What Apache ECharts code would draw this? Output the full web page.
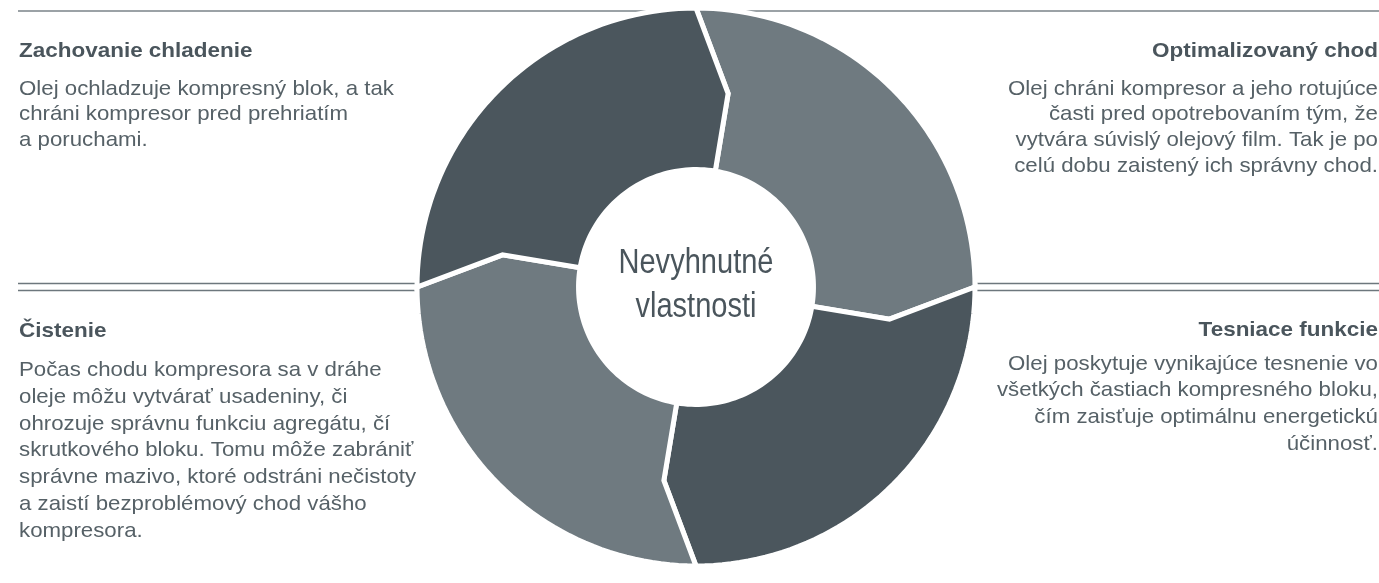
<!DOCTYPE html>
<html>
<head>
<meta charset="utf-8">
<script src="https://cdn.jsdelivr.net/npm/echarts@6/dist/echarts.min.js"></script>
<style>
html,body{margin:0;padding:0;background:#fff;}
#main{width:1379px;height:583px;}
</style>
</head>
<body>
<div id="main"></div>
<script>
// ---- data ----
const segmentNames = ['Optimalizovaný chod', 'Tesniace funkcie', 'Čistenie', 'Zachovanie chladenie'];
const segmentShares = [25, 25, 25, 25];
const centerLines = ['Nevyhnutné', 'vlastnosti'];
const blockTitles = ['Zachovanie chladenie', 'Optimalizovaný chod', 'Čistenie', 'Tesniace funkcie'];
const blockBodies = [
  ['Olej ochladzuje kompresný blok, a tak', 'chráni kompresor pred prehriatím', 'a poruchami.'],
  ['Olej chráni kompresor a jeho rotujúce', 'časti pred opotrebovaním tým, že', 'vytvára súvislý olejový film. Tak je po', 'celú dobu zaistený ich správny chod.'],
  ['Počas chodu kompresora sa v dráhe', 'oleje môžu vytvárať usadeniny, či', 'ohrozuje správnu funkciu agregátu, čí', 'skrutkového bloku. Tomu môže zabrániť', 'správne mazivo, ktoré odstráni nečistoty', 'a zaistí bezproblémový chod vášho', 'kompresora.'],
  ['Olej poskytuje vynikajúce tesnenie vo', 'všetkých častiach kompresného bloku,', 'čím zaisťuje optimálnu energetickú', 'účinnosť.']
];

// ---- style ----
const colors = ['#6f7a80', '#4b565d', '#6f7a80', '#4b565d'];
const textDark = '#4a555c';
const textBody = '#566167';
const W = 1379, H = 583;
const CX = 696, CY = 287, ROUT = 279;
const R_MID = 0.703, R_IN = 0.421, NOTCH = 2.62;

const segData = [];
let acc = 0;
segmentShares.forEach((v, i) => {
  segData.push({ value: [acc, acc + v, i], name: segmentNames[i], itemStyle: { color: colors[i] } });
  acc += v;
});

const chart = echarts.init(document.getElementById('main'), null, { renderer: 'canvas' });

function renderSeg(params, api) {
  const a = api.value(0), b = api.value(1);
  const pts = [];
  const step = 0.5;
  for (let t = a; t < b; t += step) pts.push(api.coord([1, t]));
  pts.push(api.coord([1, b]));
  pts.push(api.coord([R_MID, b + NOTCH]));
  for (let t = b + NOTCH; t > a + NOTCH; t -= step) pts.push(api.coord([R_IN, t]));
  pts.push(api.coord([R_IN, a + NOTCH]));
  pts.push(api.coord([R_MID, a + NOTCH]));
  return {
    type: 'polygon',
    shape: { points: pts },
    style: { fill: api.visual('color'), stroke: '#ffffff', lineWidth: 5, lineJoin: 'miter' }
  };
}

const fontBody = '21px "Liberation Sans", Arial, sans-serif';
const fontTitle = 'bold 21px "Liberation Sans", Arial, sans-serif';

const graphics = [];
// lines
const lineGray = '#6d777d';
graphics.push({ type: 'line', z: -1, shape: { x1: 18, y1: 11, x2: W, y2: 11 }, style: { stroke: '#7a8389', lineWidth: 1.5 } });
[CY - 3.5, CY + 3.5].forEach(y => {
  graphics.push({ type: 'line', z: -1, shape: { x1: 18, y1: y, x2: CX - ROUT + 3, y2: y }, style: { stroke: lineGray, lineWidth: 1.5 } });
  graphics.push({ type: 'line', z: -1, shape: { x1: CX + ROUT - 3, y1: y, x2: W, y2: y }, style: { stroke: lineGray, lineWidth: 1.5 } });
});

const blockPos = [
  { x: 19, t: 51, b: 89, lh: 25.5, align: 'left' },
  { x: 1378, t: 51, b: 89, lh: 25.6, align: 'right' },
  { x: 19, t: 331, b: 370, lh: 26.9, align: 'left' },
  { x: 1378, t: 330, b: 364, lh: 26.7, align: 'right' }
];
blockTitles.forEach((t, i) => {
  const p = blockPos[i];
  graphics.push({ type: 'text', x: p.x, y: p.t, scaleX: 1.07, style: { text: t, font: fontTitle, fill: textDark, textAlign: p.align, textVerticalAlign: 'middle' } });
  graphics.push({ type: 'text', x: p.x, y: p.b - p.lh / 2, scaleX: 1.06, style: { text: blockBodies[i].join('\n'), font: fontBody, fill: textBody, textAlign: p.align, textVerticalAlign: 'top', lineHeight: p.lh } });
});
graphics.push({
  type: 'text', x: CX, y: CY - 2, scaleX: 0.83, z: 10,
  style: { text: centerLines.join('\n'), font: '35px "Liberation Sans", Arial, sans-serif', fill: textDark, textAlign: 'center', textVerticalAlign: 'middle', lineHeight: 44 }
});

chart.setOption({
  animation: false,
  backgroundColor: '#ffffff',
  polar: { center: [CX, CY], radius: [0, ROUT] },
  angleAxis: { type: 'value', min: 0, max: 100, startAngle: 90, clockwise: true, show: false },
  radiusAxis: { type: 'value', min: 0, max: 1, show: false },
  series: [{
    type: 'custom',
    coordinateSystem: 'polar',
    renderItem: renderSeg,
    data: segData,
    z: 2
  }],
  graphic: graphics
});
</script>
</body>
</html>
